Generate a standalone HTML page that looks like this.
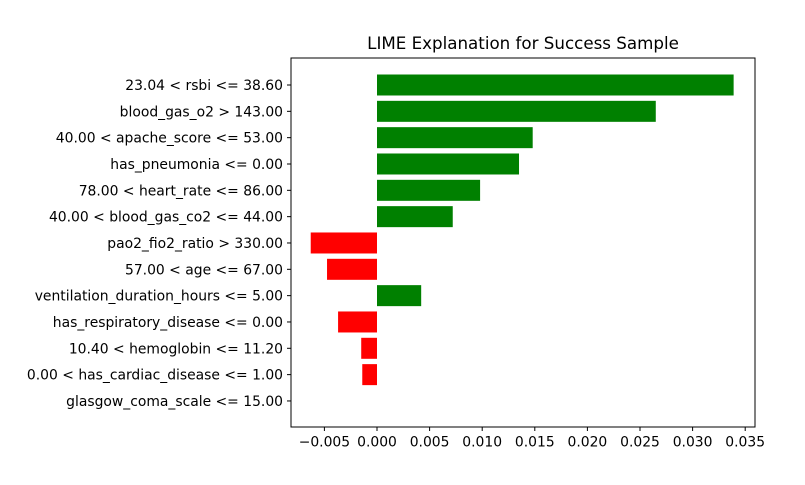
<!DOCTYPE html>
<html><head><meta charset="utf-8"><style>
body{margin:0;background:#fff}
svg text{font-family:"DejaVu Sans","Liberation Sans",sans-serif;fill:#000}
</style></head><body>
<svg width="805" height="480" xmlns="http://www.w3.org/2000/svg" id="chart">
<text x="523" y="49" font-size="16.7" text-anchor="middle">LIME Explanation for Success Sample</text>
<rect x="291" y="58" width="464" height="369" fill="none" stroke="#000" stroke-width="1"/>
<g id="bars"></g><g id="xticks"></g><g id="yticks"></g>
</svg>
<script>
const features=["23.04 < rsbi <= 38.60","blood_gas_o2 > 143.00","40.00 < apache_score <= 53.00","has_pneumonia <= 0.00","78.00 < heart_rate <= 86.00","40.00 < blood_gas_co2 <= 44.00","pao2_fio2_ratio > 330.00","57.00 < age <= 67.00","ventilation_duration_hours <= 5.00","has_respiratory_disease <= 0.00","10.40 < hemoglobin <= 11.20","0.00 < has_cardiac_disease <= 1.00","glasgow_coma_scale <= 15.00"];
const weights=[0.0339,0.0265,0.0148,0.0135,0.0098,0.0072,-0.0063,-0.00475,0.0042,-0.0037,-0.0015,-0.0014,0];
const xTicks=[-0.005,0,0.005,0.01,0.015,0.02,0.025,0.03,0.035];
const xTickLabels=["−0.005","0.000","0.005","0.010","0.015","0.020","0.025","0.030","0.035"];
const NS="http://www.w3.org/2000/svg";
const x=v=>377+v*10520;
const y=i=>85+i*26.33;
const bars=document.getElementById('bars'),xt=document.getElementById('xticks'),yt=document.getElementById('yticks');
function mk(tag,attrs,parent){const e=document.createElementNS(NS,tag);for(const k in attrs)e.setAttribute(k,attrs[k]);parent.appendChild(e);return e;}
features.forEach((f,i)=>{
  const w=weights[i];
  const r=mk('rect',{x:Math.min(x(0),x(w)),y:y(i)-10.5,width:Math.abs(x(w)-x(0)),height:21,fill:w>=0?'green':'red'},bars);
  
  
  mk('line',{x1:291,x2:287,y1:y(i),y2:y(i),stroke:'#000'},yt);
  const t=mk('text',{x:283,y:y(i)+5,'font-size':13.9,'text-anchor':'end'},yt);
  t.textContent=f;
  
  
});
xTicks.forEach((v,i)=>{
  mk('line',{x1:x(v),x2:x(v),y1:427,y2:431,stroke:'#000'},xt);
  const t=mk('text',{x:x(v),y:446.5,'font-size':13.9,'text-anchor':'middle'},xt);
  t.textContent=xTickLabels[i];
  
  
});
</script>
</body></html>
